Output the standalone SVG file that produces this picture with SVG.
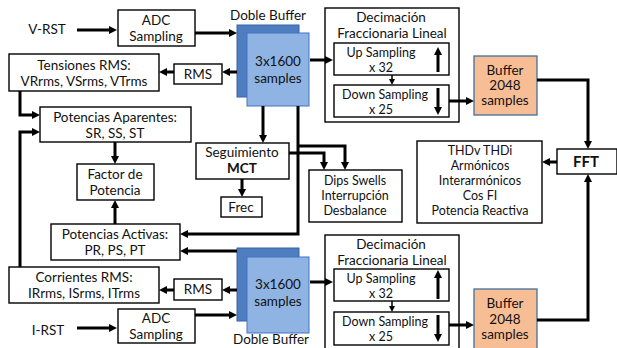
<svg xmlns="http://www.w3.org/2000/svg" width="617" height="348" viewBox="0 0 617 348">
<defs>
<marker id="ah" viewBox="0 0 8 8" markerWidth="8" markerHeight="8" refX="3" refY="4" orient="auto" markerUnits="userSpaceOnUse"><path d="M0,0 L8,4 L0,8 z" fill="#000"/></marker>
<marker id="ahs" viewBox="0 0 6 6" markerWidth="6" markerHeight="6" refX="2" refY="3" orient="auto" markerUnits="userSpaceOnUse"><path d="M0,0 L6,3 L0,6 z" fill="#000"/></marker>
<style>
.box{fill:#fff;stroke:#000;stroke-width:1.4}
.t{font-family:Lato,"Liberation Sans",sans-serif;font-size:13.5px;fill:#111;text-anchor:middle}
.s{font-size:12.5px}
.b{font-weight:bold}
.back{fill:#4E7DC0;stroke:#3A65A6;stroke-width:1}
.front{fill:#8FB4E3;stroke:#4472C4;stroke-width:1}
.buf{fill:#F7BE95;stroke:#41719C;stroke-width:1.3}
.c{fill:none;stroke:#000;stroke-width:3;marker-end:url(#ah)}
.cs{fill:none;stroke:#000;stroke-width:1.5;marker-end:url(#ahs)}
</style>
</defs>
<rect width="617" height="348" fill="#fff"/>

<g id="vrst"><text class="t" x="47" y="34">V-RST</text></g>
<g id="adc-top"><rect class="box" x="118" y="10" width="77" height="36"/><text class="t" x="156" y="25">ADC</text><text class="t" x="156" y="41">Sampling</text></g>
<g id="buffer-top"><text class="t" x="268" y="20">Doble Buffer</text><rect class="back" x="237" y="25" width="62" height="72"/><rect class="front" x="247" y="33" width="62" height="73"/><text class="t" x="278" y="66">3x1600</text><text class="t" x="278" y="83">samples</text></g>
<g id="rms-top"><rect class="box" x="174" y="64" width="48" height="20"/><text class="t" x="198" y="79">RMS</text></g>
<g id="tensiones"><rect class="box" x="9" y="54" width="150" height="37"/><text class="t" x="84" y="70">Tensiones RMS:</text><text class="t" x="84" y="86">VRrms, VSrms, VTrms</text></g>
<g id="aparentes"><rect class="box" x="40" y="107" width="151" height="35"/><text class="t" x="115" y="122">Potencias Aparentes:</text><text class="t" x="115" y="138">SR, SS, ST</text></g>
<g id="factor"><rect class="box" x="77" y="164" width="77" height="36"/><text class="t" x="115" y="179">Factor de</text><text class="t" x="115" y="195">Potencia</text></g>
<g id="activas"><rect class="box" x="51" y="224" width="129" height="36"/><text class="t" x="115" y="239">Potencias Activas:</text><text class="t" x="115" y="255">PR, PS, PT</text></g>
<g id="corrientes"><rect class="box" x="9" y="267" width="150" height="36"/><text class="t" x="84" y="282">Corrientes RMS:</text><text class="t" x="84" y="298">IRrms, ISrms, ITrms</text></g>
<g id="seguimiento"><rect class="box" x="196" y="143" width="93" height="36"/><text class="t" x="242" y="157">Seguimiento</text><text class="t b" x="242" y="173">MCT</text></g>
<g id="frec"><rect class="box" x="221" y="197" width="41" height="20"/><text class="t" x="241" y="212">Frec</text></g>
<g id="dips"><rect class="box" x="309" y="170" width="93" height="52"/><text class="t s" x="355" y="185">Dips Swells</text><text class="t s" x="355" y="200">Interrupción</text><text class="t s" x="355" y="215">Desbalance</text></g>
<g id="decim-top"><rect class="box" x="325" y="8" width="134" height="114"/><text class="t" x="391" y="22">Decimación</text><text class="t" x="392" y="38">Fraccionaria Lineal</text>
<rect class="box" x="334" y="43" width="115" height="32"/><text class="t s" x="381" y="57">Up Sampling</text><text class="t s" x="381" y="72">x 32</text>
<rect class="box" x="334" y="85" width="115" height="32"/><text class="t s" x="385" y="99">Down Sampling</text><text class="t s" x="381" y="114">x 25</text></g>
<g id="buf2048-top"><rect class="buf" x="474" y="56" width="63" height="59"/><text class="t" x="505" y="75">Buffer</text><text class="t" x="505" y="90">2048</text><text class="t" x="505" y="105">samples</text></g>
<g id="fft"><rect class="box" x="557" y="149" width="60" height="25"/><text class="t b" x="586" y="167" style="font-size:15px">FFT</text></g>
<g id="thd"><rect class="box" x="417" y="141" width="125" height="82"/><text class="t s" x="480" y="155">THDv THDi</text><text class="t s" x="480" y="170">Armónicos</text><text class="t s" x="480" y="185">Interarmónicos</text><text class="t s" x="480" y="200">Cos FI</text><text class="t s" x="480" y="215">Potencia Reactiva</text></g>
<g id="buffer-bot"><rect class="back" x="237" y="248" width="62" height="73"/><rect class="front" x="247" y="257" width="62" height="76"/><text class="t" x="278" y="289">3x1600</text><text class="t" x="278" y="306">samples</text><text class="t" x="271" y="344">Doble Buffer</text></g>
<g id="rms-bot"><rect class="box" x="174" y="279" width="48" height="21"/><text class="t" x="198" y="294">RMS</text></g>
<g id="adc-bot"><rect class="box" x="118" y="309" width="77" height="34"/><text class="t" x="156" y="323">ADC</text><text class="t" x="156" y="339">Sampling</text></g>
<g id="irst"><text class="t" x="48" y="335">I-RST</text></g>
<g id="decim-bot"><rect class="box" x="325" y="235" width="134" height="117"/><text class="t" x="391" y="249">Decimación</text><text class="t" x="392" y="265">Fraccionaria Lineal</text>
<rect class="box" x="334" y="269" width="115" height="32"/><text class="t s" x="381" y="283">Up Sampling</text><text class="t s" x="381" y="298">x 32</text>
<rect class="box" x="334" y="312" width="115" height="33"/><text class="t s" x="385" y="326">Down Sampling</text><text class="t s" x="381" y="341">x 25</text></g>
<g id="buf2048-bot"><rect class="buf" x="474" y="289" width="63" height="64"/><text class="t" x="505" y="308">Buffer</text><text class="t" x="505" y="324">2048</text><text class="t" x="505" y="339">samples</text></g>

<g id="connectors">
<path class="c" d="M77,30 H112"/>
<path class="c" d="M195,33 H232"/>
<path class="c" d="M310,60 H328"/>
<path class="c" d="M449,101 H469"/>
<path class="c" d="M537,80 H588 V144"/>
<path class="c" d="M537,320 H588 V179"/>
<path class="c" d="M557,162 H547"/>
<path class="c" d="M237,72 H227"/>
<path class="c" d="M174,72 H164"/>
<path class="c" d="M20,91 V115 H35"/>
<path class="c" d="M20,267 V132 H35"/>
<path class="c" d="M115,142 V159"/>
<path class="c" d="M115,224 V205"/>
<path class="c" d="M263,106 V138"/>
<path class="c" d="M298,106 V234 H185"/>
<path class="c" d="M298,146 H345 V165"/>
<path class="c" d="M289,153 H324 V165"/>
<path class="c" d="M242,179 V192"/>
<path class="c" d="M237,251 H185"/>
<path class="c" d="M237,290 H227"/>
<path class="c" d="M174,290 H164"/>
<path class="c" d="M195,315 H232"/>
<path class="c" d="M77,328 H112"/>
<path class="c" d="M310,282 H328"/>
<path class="c" d="M449,325 H469"/>
<path class="cs" d="M392,75 V81"/>
<path class="cs" d="M392,301 V308"/>
<path class="c" d="M438,72 V52"/>
<path class="c" d="M438,88 V110"/>
<path class="c" d="M438,299 V275"/>
<path class="c" d="M438,315 V337"/>
</g>
</svg>
